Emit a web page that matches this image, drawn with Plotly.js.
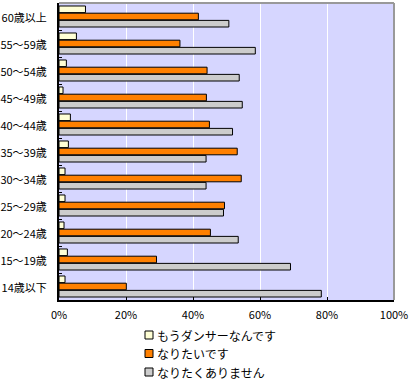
<!DOCTYPE html>
<html><head><meta charset="utf-8">
<script src="https://cdn.plot.ly/plotly-3.0.1.min.js"></script>
<style>html,body{margin:0;padding:0;background:#fff}</style>
</head><body>
<div id="chart" style="width:414px;height:382px"></div>
<script>
const categories = ["60歳以上","55～59歳","50～54歳","45～49歳","40～44歳","35～39歳","30～34歳","25～29歳","20～24歳","15～19歳","14歳以下"];
const alreadyDancer = [7.9, 5.2, 2.2, 1.2, 3.4, 2.8, 1.8, 1.8, 1.5, 2.5, 1.8];
const wantToBe = [41.6, 36.1, 44.2, 44.0, 44.9, 53.2, 54.4, 49.4, 45.2, 29.1, 20.1];
const dontWant = [50.7, 58.6, 53.8, 54.7, 51.8, 43.9, 43.9, 49.1, 53.5, 69.1, 78.3];
const seriesNames = ["もうダンサーなんです","なりたいです","なりたくありません"];
const xTickVals = [0, 20, 40, 60, 80, 100];
const xTickText = ["0%","20%","40%","60%","80%","100%"];

const colors = ["#FFFFD5", "#FF8000", "#CCCCCC"];
const data = [alreadyDancer, wantToBe, dontWant].map((vals, i) => ({
  type: "bar", orientation: "h",
  y: categories, x: vals, name: seriesNames[i],
  marker: {color: colors[i], line: {color: "#000", width: 1}},
  hoverinfo: "x+y", showlegend: false
}));

const W = 414, H = 382, mL = 59, mR = 20, mT = 3, mB = 82;
const pw = W - mL - mR, ph = H - mT - mB;
const px2x = p => (p - mL) / pw;
const py2y = p => (H - mB - p) / ph;

const fam = "'Noto Sans CJK JP', sans-serif";
const font = {family: fam, size: 11, color: "#000"};
const font12 = {family: fam, size: 12, color: "#000"};

// custom legend (squares + text) below the plot
const legendRows = [335, 353.5, 372];
const shapes = [
  {type: "line", xref: "paper", yref: "paper", x0: 0, x1: 1, y0: 1, y1: 1, line: {color: "#999", width: 2}},
  {type: "line", xref: "paper", yref: "paper", x0: 1, x1: 1, y0: 0, y1: 1, line: {color: "#999", width: 2}}
];
const annotations = [];
seriesNames.forEach((name, i) => {
  const cy = legendRows[i];
  shapes.push({type: "rect", xref: "paper", yref: "paper",
    x0: px2x(145), x1: px2x(153), y0: py2y(cy + 4), y1: py2y(cy - 4),
    fillcolor: colors[i], line: {color: "#000", width: 1}});
  annotations.push({xref: "paper", yref: "paper", x: px2x(155), y: py2y(cy),
    xanchor: "left", yanchor: "middle", showarrow: false, text: name, font: font12});
});

const layout = {
  width: W, height: H,
  margin: {l: mL, r: mR, t: mT, b: mB},
  paper_bgcolor: "#fff", plot_bgcolor: "#D6D6FF",
  font: font,
  barmode: "group", bargap: 0.2, bargroupgap: 0.08,
  showlegend: false,
  xaxis: {range: [0, 100], tickvals: xTickVals, ticktext: xTickText,
          showgrid: true, gridcolor: "#fff", gridwidth: 1,
          showline: true, linecolor: "#000", linewidth: 2,
          ticks: "inside", ticklen: 3, tickcolor: "#000", zeroline: false,
          mirror: false, fixedrange: true, ticklabelstandoff: 4},
  yaxis: {type: "category", autorange: "reversed",
          showline: true, linecolor: "#000", linewidth: 2,
          ticks: "inside", ticklen: 3, tickcolor: "#000", tickson: "boundaries",
          showgrid: false, fixedrange: true, ticklabelstandoff: 8, ticklabelshift: -2, tickfont: font},
  shapes: shapes,
  annotations: annotations
};
Plotly.newPlot("chart", data, layout, {displayModeBar: false, staticPlot: true});
</script>
</body></html>
